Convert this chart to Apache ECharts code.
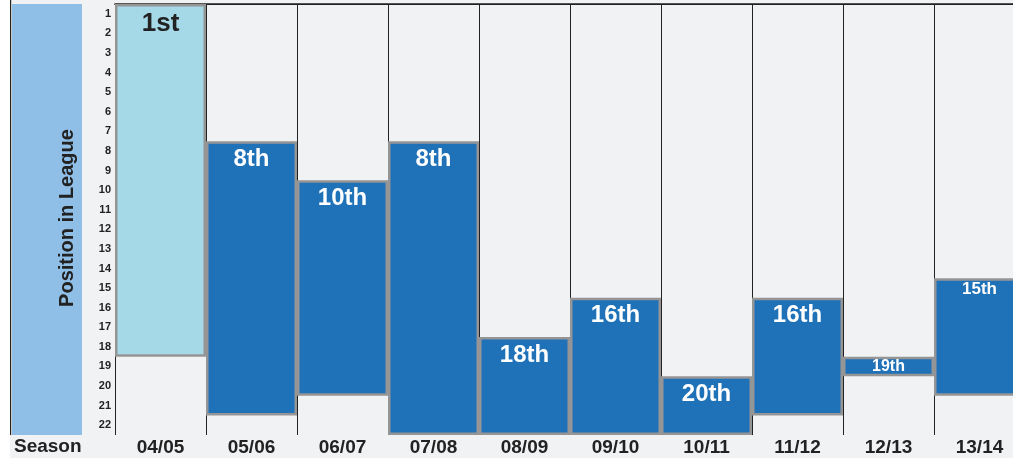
<!DOCTYPE html>
<html>
<head>
<meta charset="utf-8">
<script src="https://cdn.jsdelivr.net/npm/echarts@6/dist/echarts.min.js"></script>
<style>
  html, body { margin: 0; padding: 0; background: #f1f2f4; }
  #chart { width: 1013px; height: 458px; }
</style>
</head>
<body>
<div id="chart"></div>
<script>
// seasons and finishing positions
const seasons = ['04/05', '05/06', '06/07', '07/08', '08/09', '09/10', '10/11', '11/12', '12/13', '13/14'];
const positions = [1, 8, 10, 8, 18, 16, 20, 16, 19, 15];
// bar spans in league-slot units (0 = top of table, 22 = bottom)
const barTop = [0, 7, 9, 7, 17, 15, 19, 15, 18, 14];
const barBottom = [18, 21, 20, 22, 22, 22, 22, 21, 19, 20];
const positionTicks = ['1', '2', '3', '4', '5', '6', '7', '8', '9', '10', '11', '12', '13', '14', '15', '16', '17', '18', '19', '20', '21', '22'];
const labelSizes = [26, 24, 24, 24, 24, 24, 24, 24, 16, 17];

const FONT = '"Liberation Sans", Arial, sans-serif';
const ordinal = n => n + (n === 1 ? 'st' : n === 2 ? 'nd' : n === 3 ? 'rd' : 'th');

const chart = echarts.init(document.getElementById('chart'));

const spanData = seasons.map((s, i) => ({
  value: barBottom[i] - barTop[i],
  itemStyle: { color: i === 0 ? '#a6d9e8' : '#1f71b8' },
  label: {
    formatter: ordinal(positions[i]),
    fontSize: labelSizes[i],
    color: i === 0 ? '#222' : '#fff',
    position: barBottom[i] - barTop[i] < 2 ? 'inside' : 'insideTop',
    distance: i === 0 ? 7 : (labelSizes[i] < 20 ? 3 : 6)
  }
}));

chart.setOption({
  backgroundColor: '#f1f2f4',
  animation: false,
  grid: { left: 115, top: 4, width: 910, height: 431, outerBoundsMode: 'none', containLabel: false },
  graphic: [
    { type: 'rect', shape: { x: 0, y: 0, width: 10, height: 458 }, style: { fill: '#ffffff' }, silent: true },
    { type: 'rect', shape: { x: 10, y: 0, width: 1.2, height: 435 }, style: { fill: '#222' }, silent: true },
    { type: 'rect', shape: { x: 12, y: 4, width: 70, height: 431 }, style: { fill: '#8fbfe7' }, silent: true },
    {
      type: 'text', x: 67, y: 218, rotation: Math.PI / 2,
      style: { text: 'Position in League', font: 'bold 20px ' + FONT, fill: '#222', align: 'center', verticalAlign: 'middle' }
    },
    {
      type: 'text', x: 14, y: 447,
      style: { text: 'Season', font: 'bold 19px ' + FONT, fill: '#222', align: 'left', verticalAlign: 'middle' }
    }
  ],
  xAxis: [
    {
      type: 'category', data: seasons, position: 'bottom',
      axisLine: { show: true, lineStyle: { color: '#222', width: 1 } },
      axisTick: { show: false },
      axisLabel: { color: '#222', fontFamily: FONT, fontWeight: 'bold', fontSize: 19, margin: 3 },
      splitLine: { show: true, lineStyle: { color: '#222', width: 1 } }
    },
    {
      type: 'category', data: seasons, position: 'top',
      axisLine: { show: true, lineStyle: { color: '#222', width: 1.5 } },
      axisTick: { show: false }, axisLabel: { show: false }
    }
  ],
  yAxis: [
    { type: 'value', inverse: true, min: 0, max: 22, show: false },
    {
      type: 'category', inverse: true, data: positionTicks, position: 'left',
      axisLine: { show: false }, axisTick: { show: false },
      axisLabel: { color: '#222', fontFamily: FONT, fontWeight: 'bold', fontSize: 11, margin: 4, padding: [0, 0, 3, 0] }
    }
  ],
  series: [
    {
      type: 'bar', stack: 'span', yAxisIndex: 0, barWidth: '100%',
      data: barTop,
      itemStyle: { color: 'transparent' },
      silent: true
    },
    {
      type: 'bar', stack: 'span', yAxisIndex: 0, barWidth: '100%',
      data: spanData,
      itemStyle: { borderColor: '#959595', borderWidth: 2.5 },
      label: { show: true, fontFamily: FONT, fontWeight: 'bold' }
    }
  ]
});
</script>
</body>
</html>
